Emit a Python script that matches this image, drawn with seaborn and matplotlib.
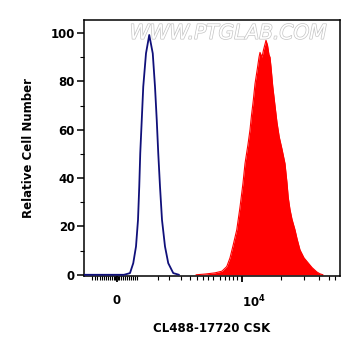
import numpy as np
import pandas as pd
import matplotlib
matplotlib.use("Agg")
import matplotlib.pyplot as plt
import matplotlib.patheffects as pe
from matplotlib.transforms import ScaledTranslation
import seaborn as sns

# Data (x in display channel units 0-1024)
blue_x = [0, 160, 184, 197, 208, 216, 221, 225, 231, 237, 248, 261, 275, 284, 291, 297, 304, 312, 324, 337, 357, 380]
blue_y = [0, 0, 0.7, 4.8, 11.7, 22.7, 36.5, 50.3, 64, 77.8, 91.6, 99.2, 91.6, 77.8, 64, 50.3, 36.5, 22.7, 11.7, 4.8, 0.7, 0]

red_x = [448, 484, 524, 552, 571, 584, 596, 611, 624, 636, 644, 656, 664, 670, 677, 684, 693, 700, 704, 708,
         712, 718, 728, 734, 740, 744, 748, 755, 764, 772, 781, 792, 804, 812, 817, 824, 832, 844, 852, 864,
         880, 896, 912, 931, 944, 956]
red_y = [0, 0.3, 0.8, 1.5, 3.4, 7, 12, 18.6, 28, 38, 46, 54, 60, 66, 72, 79, 85, 90, 92, 91,
         90, 93, 97, 95, 91, 90, 86, 78, 70, 63, 57, 52, 46, 38, 32, 27, 23, 18.6, 15, 10.3,
         7, 5, 3, 1.2, 0.4, 0]

major_ticks = [132, 632]
major_labels = ["0", "$\\mathbf{10^4}$"]
minor_ticks = [32, 42, 52, 62, 72, 80, 88, 96, 104, 112, 120, 124, 128, 136, 140, 148, 156, 164, 172,
               180, 188, 196, 204, 212, 296, 340, 388, 424, 452, 476, 496, 516, 544, 564, 580, 596, 612,
               788, 880, 940, 980, 1004]
y_major = [0, 20, 40, 60, 80, 100]
y_minor = [10, 30, 50, 70, 90]

sns.set_style("ticks")
plt.rcParams['font.family'] = ['DejaVu Sans']
plt.rcParams['mathtext.fontset'] = 'dejavusans'
plt.rcParams['text.color'] = 'black'
plt.rcParams['axes.labelcolor'] = 'black'
plt.rcParams['xtick.color'] = 'black'
plt.rcParams['ytick.color'] = 'black'

fig = plt.figure(figsize=(3.61, 3.56), dpi=100)
ax = fig.add_axes([84/361, 1-276/356, 256/361, 256/356])

dfb = pd.DataFrame({"x": blue_x, "y": blue_y})
dfr = pd.DataFrame({"x": red_x, "y": red_y})
ax.fill_between(dfr["x"], dfr["y"], 0, color="#ff0000", linewidth=0, zorder=2)
sns.lineplot(data=dfr, x="x", y="y", ax=ax, color="#ff0000", linewidth=0.8, zorder=2)
sns.lineplot(data=dfb, x="x", y="y", ax=ax, color="#10107a", linewidth=1.3, zorder=3)

ax.set_xlim(0, 1024)
ax.set_ylim(-0.5, 105.4)

ax.set_xticks(major_ticks)
ax.set_xticklabels(major_labels)
ax.set_xticks(minor_ticks, minor=True)
ax.set_yticks(y_major)
ax.set_yticks(y_minor, minor=True)

for lab in ax.get_xticklabels() + ax.get_yticklabels():
    lab.set_fontweight("bold")
    lab.set_fontsize(8.5)
    lab.set_color("black")
labs = ax.get_xticklabels()
labs[0].set_transform(labs[0].get_transform() + ScaledTranslation(3/100, 0, fig.dpi_scale_trans))
labs[1].set_horizontalalignment("left")
labs[1].set_transform(labs[1].get_transform() + ScaledTranslation(-7/100, 6/100, fig.dpi_scale_trans))

ax.tick_params(axis="y", which="major", length=5, width=1.1, pad=1.5)
ax.tick_params(axis="y", which="minor", length=2.9, width=0.8)
ax.tick_params(axis="x", which="major", length=4.3, width=1.3, pad=8.6)
ax.tick_params(axis="x", which="minor", length=2.9, width=0.8)

for s in ax.spines.values():
    s.set_linewidth(1.1)
    s.set_color("black")

ax.set_xlabel("CL488-17720 CSK", fontsize=8.5, fontweight="bold", labelpad=8, color="black")
ax.set_ylabel("Relative Cell Number", fontsize=8.5, fontweight="bold", labelpad=11, color="black")

ax.text(0.5625, 0.948, "WWW.PTGLAB.COM", transform=ax.transAxes, ha="center", va="center",
        fontsize=14.5, color="white", fontstyle="italic", zorder=5,
        path_effects=[pe.withStroke(linewidth=1.0, foreground="#c4c4c4")])

fig.savefig("out.png", dpi=100)
